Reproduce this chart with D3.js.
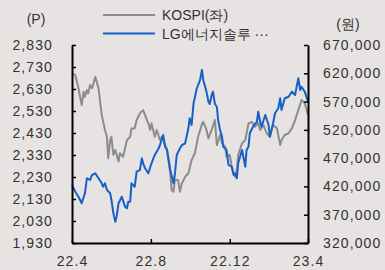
<!DOCTYPE html>
<html>
<head>
<meta charset="utf-8">
<script src="https://cdn.jsdelivr.net/npm/d3@7"></script>
<style>
  body { margin: 0; background: #e6e3e2; }
  svg { display: block; }
  text { font-family: "Liberation Sans", Arial, sans-serif; fill: #333; }
</style>
</head>
<body>
<div id="chart"></div>
<script>
// KOSPI (left axis, P)
var kospiDates = ["2022-04-01","2022-04-06","2022-04-11","2022-04-16","2022-04-19","2022-04-21","2022-04-24","2022-04-26","2022-04-29",
  "2022-05-02","2022-05-07","2022-05-12","2022-05-17","2022-05-22","2022-05-25","2022-05-27","2022-05-30",
  "2022-06-01","2022-06-04","2022-06-07","2022-06-12","2022-06-14","2022-06-19","2022-06-25","2022-06-30",
  "2022-07-02","2022-07-07","2022-07-10","2022-07-15","2022-07-20","2022-07-26","2022-07-28","2022-07-31",
  "2022-08-02","2022-08-07","2022-08-10","2022-08-15","2022-08-18","2022-08-20","2022-08-26","2022-08-31",
  "2022-09-02","2022-09-05","2022-09-07","2022-09-12","2022-09-15","2022-09-18","2022-09-23","2022-09-28",
  "2022-10-03","2022-10-08","2022-10-13","2022-10-19","2022-10-21","2022-10-26","2022-10-29",
  "2022-11-03","2022-11-08","2022-11-11","2022-11-16","2022-11-19","2022-11-24","2022-11-26",
  "2022-12-01","2022-12-04","2022-12-07","2022-12-09","2022-12-12","2022-12-14","2022-12-20","2022-12-25","2022-12-30",
  "2023-01-04","2023-01-09","2023-01-14","2023-01-17","2023-01-22","2023-01-27",
  "2023-02-01","2023-02-06","2023-02-12","2023-02-17","2023-02-19","2023-02-24",
  "2023-03-02","2023-03-07","2023-03-12","2023-03-17","2023-03-22","2023-03-27","2023-04-01"];
var kospi = [2701,2694,2633,2557,2618,2595,2625,2610,2648,
  2633,2686,2633,2512,2444,2413,2315,2398,
  2413,2330,2353,2300,2338,2322,2398,2413,
  2451,2451,2489,2519,2534,2489,2474,2444,
  2474,2413,2444,2398,2413,2398,2353,2247,
  2171,2163,2216,2216,2163,2201,2231,2247,
  2307,2338,2413,2470,2481,2444,2406,
  2444,2489,2375,2421,2383,2368,2322,
  2330,2277,2247,2231,2262,2330,2383,2398,2474,
  2481,2459,2474,2444,2466,2429,
  2413,2466,2451,2375,2398,2421,
  2429,2451,2489,2534,2580,2565,2512];

// LG에너지솔루션 (right axis, 원)
var lgesDates = ["2022-04-01","2022-04-06","2022-04-11","2022-04-16","2022-04-21","2022-04-24","2022-04-29",
  "2022-05-02","2022-05-07","2022-05-12","2022-05-17","2022-05-19","2022-05-22","2022-05-25","2022-05-30",
  "2022-06-01","2022-06-04","2022-06-07","2022-06-09","2022-06-12","2022-06-17","2022-06-22","2022-06-25","2022-06-27","2022-06-30",
  "2022-07-02","2022-07-07","2022-07-10","2022-07-15","2022-07-18","2022-07-20","2022-07-23","2022-07-28",
  "2022-08-02","2022-08-07","2022-08-13","2022-08-15","2022-08-20","2022-08-23","2022-08-26","2022-08-31",
  "2022-09-05","2022-09-07","2022-09-10","2022-09-15","2022-09-18","2022-09-23","2022-09-28","2022-09-30",
  "2022-10-03","2022-10-06","2022-10-11","2022-10-16","2022-10-19","2022-10-21","2022-10-26","2022-10-29","2022-10-31",
  "2022-11-03","2022-11-05","2022-11-08","2022-11-11","2022-11-13","2022-11-16","2022-11-19","2022-11-21","2022-11-26","2022-11-29",
  "2022-12-04","2022-12-07","2022-12-09","2022-12-12","2022-12-14","2022-12-20","2022-12-25","2022-12-27","2022-12-30",
  "2023-01-01","2023-01-06","2023-01-12","2023-01-14","2023-01-17","2023-01-19","2023-01-25","2023-01-30",
  "2023-02-01","2023-02-06","2023-02-09","2023-02-14","2023-02-17","2023-02-19","2023-02-24",
  "2023-03-02","2023-03-07","2023-03-12","2023-03-17","2023-03-20","2023-03-22","2023-03-27","2023-04-01"];
var lges = [422500,410700,401800,390200,407900,434400,431400,
  440200,443200,434400,425500,419500,425500,413700,407900,
  396000,372500,357700,366500,390200,401800,384200,381300,393000,393000,
  425500,419500,446000,449000,469700,460900,452000,443200,
  460900,475600,487400,493200,510900,490200,484400,449000,
  425500,440200,475600,487400,493200,496200,522800,540400,
  528600,566900,593500,608100,625800,608100,587500,569800,565700,
  581600,587500,565700,560900,537400,519800,507900,490200,484400,457900,
  454900,440200,443200,434400,460900,484400,454900,484400,490200,
  513900,525600,534400,552100,534400,525600,546300,528600,
  507900,531600,549300,558100,575800,555100,575800,
  578600,587500,581600,611100,590500,596300,587500,569800];

var leftTicks = [1930,2030,2130,2230,2330,2430,2530,2630,2730,2830];
var rightTicks = [320000,370000,420000,470000,520000,570000,620000,670000];
var xTicks = ["2022-04-01","2022-08-01","2022-12-01","2023-04-01"];
var seriesNames = ["KOSPI(좌)", "LG에너지솔루 ···"];

var parse = d3.timeParse("%Y-%m-%d");
var kospiData = kospiDates.map(function(d, i) { return {date: parse(d), value: kospi[i]}; });
var lgesData = lgesDates.map(function(d, i) { return {date: parse(d), value: lges[i]}; });

var width = 385, height = 270;
var plotLeft = 72, plotRight = 308, plotTop = 45, plotBottom = 243;

var svg = d3.select("#chart").append("svg")
  .attr("width", width)
  .attr("height", height);

svg.append("rect").attr("width", width).attr("height", height).attr("fill", "#e6e3e2");

var x = d3.scaleTime()
  .domain([parse(xTicks[0]), parse(xTicks[xTicks.length - 1])])
  .range([plotLeft, plotRight]);
var yL = d3.scaleLinear().domain([1930, 2830]).range([plotBottom, plotTop]);
var yR = d3.scaleLinear().domain([320000, 670000]).range([plotBottom, plotTop]);

// lines
var lineL = d3.line().x(function(d) { return x(d.date); }).y(function(d) { return yL(d.value); });
var lineR = d3.line().x(function(d) { return x(d.date); }).y(function(d) { return yR(d.value); });

svg.append("path").datum(kospiData)
  .attr("d", lineL)
  .attr("fill", "none")
  .attr("stroke", "#8c8c8c")
  .attr("stroke-width", 2)
  .attr("stroke-linejoin", "round");

svg.append("path").datum(lgesData)
  .attr("d", lineR)
  .attr("fill", "none")
  .attr("stroke", "#1660c8")
  .attr("stroke-width", 2)
  .attr("stroke-linejoin", "round");

// axes
function styleAxis(g) {
  g.select(".domain").attr("stroke", "#000").attr("stroke-width", 2);
  g.selectAll(".tick line").attr("stroke", "#000").attr("stroke-width", 1.5);
  g.selectAll(".tick text")
    .style("font-size", "14px")
    .style("letter-spacing", "1.1px")
    .attr("fill", "#333");
}

svg.append("g")
  .attr("transform", "translate(" + plotLeft + ",0)")
  .call(d3.axisLeft(yL).tickValues(leftTicks).tickFormat(d3.format(",")).tickSizeInner(-4).tickSizeOuter(0).tickPadding(19))
  .call(styleAxis);

svg.append("g")
  .attr("transform", "translate(" + plotRight + ",0)")
  .call(d3.axisRight(yR).tickValues(rightTicks).tickFormat(d3.format(",")).tickSizeInner(-4).tickSizeOuter(0).tickPadding(15))
  .call(styleAxis);

svg.append("g")
  .attr("transform", "translate(0," + plotBottom + ")")
  .call(d3.axisBottom(x).tickValues(xTicks.map(parse)).tickFormat(d3.timeFormat("%y.%-m")).tickSizeInner(-4).tickSizeOuter(0).tickPadding(13))
  .call(styleAxis);

// unit labels
svg.append("text").attr("x", 36).attr("y", 24).attr("text-anchor", "middle")
  .style("font-size", "14px").text("(P)");
svg.append("text").attr("x", 348).attr("y", 29).attr("text-anchor", "middle")
  .style("font-size", "14px").text("(원)");

// legend
var legend = svg.append("g");
var legendColors = ["#8c8c8c", "#1660c8"];
seriesNames.forEach(function(name, i) {
  var ly = 15 + i * 18.5;
  legend.append("line")
    .attr("x1", 103).attr("x2", 155)
    .attr("y1", ly).attr("y2", ly)
    .attr("stroke", legendColors[i])
    .attr("stroke-width", 2);
  legend.append("text")
    .attr("x", 162).attr("y", ly + 5)
    .style("font-size", "14px")
    .text(name);
});
</script>
</body>
</html>
